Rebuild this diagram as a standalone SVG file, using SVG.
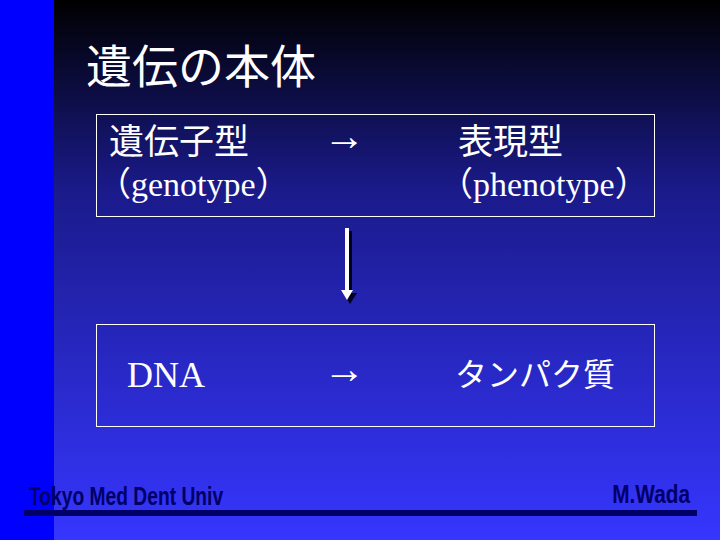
<svg xmlns="http://www.w3.org/2000/svg" width="720" height="540" viewBox="0 0 720 540">
<defs>
<linearGradient id="bg" x1="0" y1="0" x2="0" y2="1">
<stop offset="0" stop-color="#000000"/>
<stop offset="0.35" stop-color="#1a1a8a"/>
<stop offset="1" stop-color="#3636ff"/>
</linearGradient>
<style>
.jp{font-family:"Liberation Sans","Noto Sans CJK JP",sans-serif;fill:#fff}
.sr{font-family:"Liberation Serif","Noto Sans CJK JP",serif;fill:#fff}
.box{fill:none;stroke:#fff;stroke-width:1}
.ft{font-family:"Liberation Sans",sans-serif;font-weight:bold;fill:#000066;font-size:26px}
</style>
</defs>
<rect x="0" y="0" width="720" height="540" fill="url(#bg)"/>
<rect x="0" y="0" width="54" height="540" fill="#0000ff"/>
<text class="jp" x="86" y="83" font-size="46">遺伝の本体</text>
<g id="genotype-box">
<rect class="box" x="96.5" y="114.5" width="558" height="102"/>
<text class="jp" x="109" y="154" font-size="35">遺伝子型</text>
<text class="sr" x="97" y="196" font-size="34">（genotype）</text>
<text class="sr" x="323" y="150" font-size="42">→</text>
<text class="jp" x="458" y="154" font-size="35">表現型</text>
<text class="sr" x="439" y="196" font-size="34">（phenotype）</text>
</g>
<g id="dna-box">
<rect class="box" x="96.5" y="324.5" width="558" height="102"/>
<text class="sr" x="127" y="387" font-size="36">DNA</text>
<text class="sr" x="323" y="383" font-size="42">→</text>
<text class="jp" x="455" y="386" font-size="32">タンパク質</text>
</g>
<g id="connectors">
<rect x="348" y="231" width="4" height="66" fill="#000022"/>
<polygon points="343,293 357,293 350,304" fill="#000022"/>
<rect x="345" y="228" width="4" height="64" fill="#fff"/>
<polygon points="341,290 353,290 347,300" fill="#fff"/>
</g>
<rect x="24" y="510" width="673" height="6" fill="#000066"/>
<text class="ft" x="29" y="505" transform="translate(29 505) scale(0.74 1) translate(-29 -505)">Tokyo Med Dent Univ</text>
<text class="ft" x="690" y="503" text-anchor="end" transform="translate(690 503) scale(0.8 1) translate(-690 -503)">M.Wada</text>
</svg>
